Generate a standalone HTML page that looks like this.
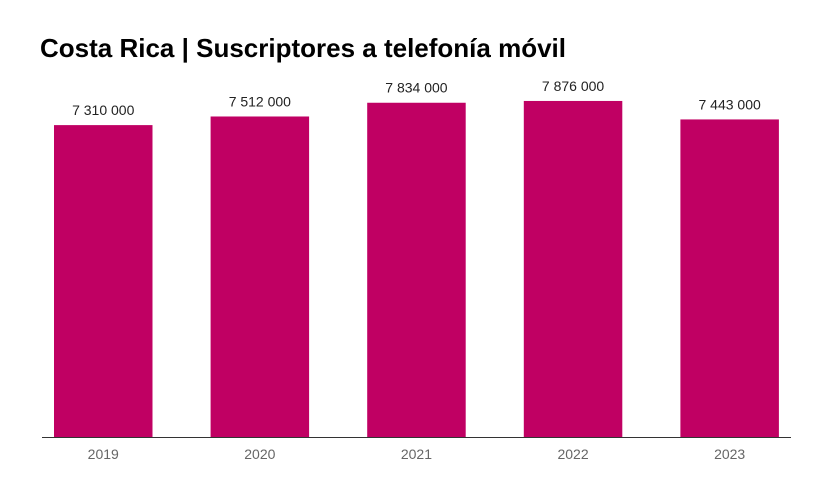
<!DOCTYPE html>
<html><head><meta charset="utf-8"><style>
body{margin:0;background:#fff;width:836px;height:492px;overflow:hidden;font-family:"Liberation Sans",sans-serif;}
</style></head><body>
<svg id="chart" width="836" height="492" xmlns="http://www.w3.org/2000/svg">
<text x="40" y="57" font-size="26" font-weight="bold" fill="#000" font-family="Liberation Sans, sans-serif">Costa Rica | Suscriptores a telefonía móvil</text>
<g id="bars"></g>
<line x1="42" y1="437.5" x2="791" y2="437.5" stroke="#333" stroke-width="1"/>
</svg>
<script>
const categories=["2019","2020","2021","2022","2023"];
const values=[7310000,7512000,7834000,7876000,7443000];
const valueLabels=["7 310 000","7 512 000","7 834 000","7 876 000","7 443 000"];
const NS="http://www.w3.org/2000/svg";
const g=document.getElementById('bars');
const baseY=437, step=156.6, barW=98.5, yMax=9000000, plotH=384;
function xPos(i){return 54+i*step;}
function yScale(v){return baseY-v/yMax*plotH;}
categories.forEach((c,i)=>{
  const x=xPos(i), y=yScale(values[i]);
  const r=document.createElementNS(NS,'rect');
  
  
  r.setAttribute('x',x);r.setAttribute('y',y);r.setAttribute('width',barW);r.setAttribute('height',baseY-y);
  r.setAttribute('fill','#c00063');g.appendChild(r);
  const t=document.createElementNS(NS,'text');
  
  
  t.setAttribute('x',x+barW/2);t.setAttribute('y',y-10);t.setAttribute('text-anchor','middle');
  t.setAttribute('font-size','14');t.setAttribute('fill','#222');t.textContent=valueLabels[i];g.appendChild(t);
  const l=document.createElementNS(NS,'text');
  
  
  l.setAttribute('x',x+barW/2);l.setAttribute('y',459);l.setAttribute('text-anchor','middle');
  l.setAttribute('font-size','14');l.setAttribute('fill','#666');l.textContent=c;g.appendChild(l);
});
</script>
</body></html>
